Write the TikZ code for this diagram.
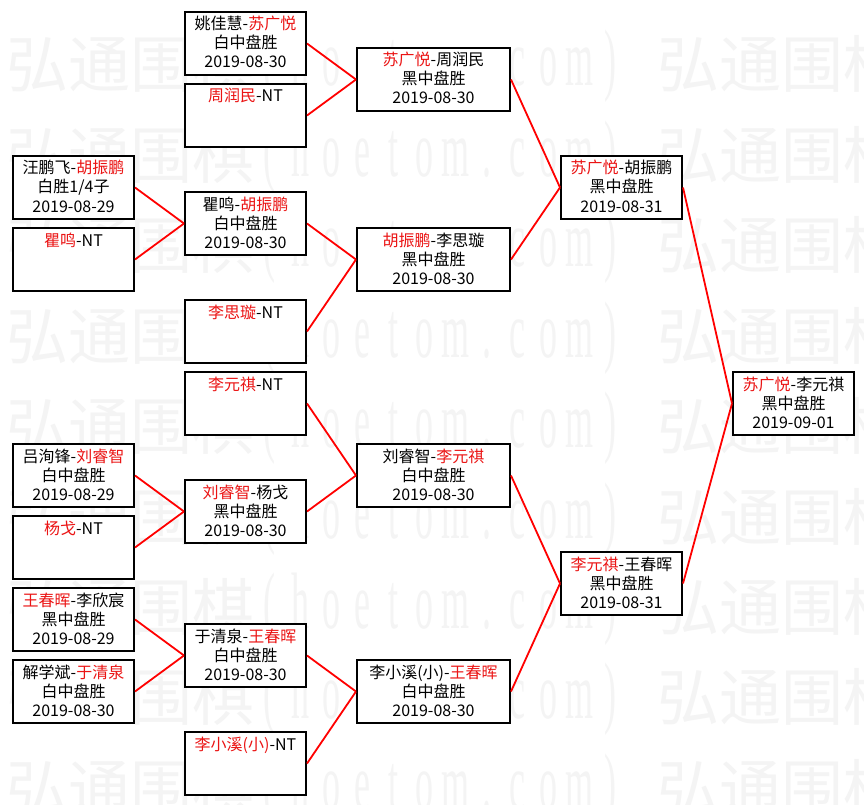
\documentclass[tikz,border=0pt]{standalone}
\usepackage{fontspec}
\usepackage{graphicx}
\setmainfont{Noto Sans CJK SC}
\newfontfamily\wmlat{Liberation Serif}
\usetikzlibrary{calc}
\definecolor{wm}{gray}{0.955}
\definecolor{win}{RGB}{235,20,20}
\newcommand{\rd}[1]{\textcolor{win}{#1}}
\tikzset{
  gbox/.style={draw=black, line width=2pt, fill=white, rectangle, inner sep=0pt, minimum height=63pt, anchor=north west},
  gtxt/.style={anchor=base, inner sep=0pt, font=\fontsize{16pt}{19pt}\selectfont},
  link/.style={draw=red, line width=1.8pt},
  wmc/.style={anchor=base, inner sep=0pt, text=wm, font=\fontsize{62pt}{62pt}\selectfont},
  wml/.style={anchor=base, inner sep=0pt, text=wm, font=\wmlat\fontsize{80pt}{80pt}\selectfont},
}
\newcommand{\gamebox}[7]{%
  \node[gbox, minimum width=#4pt] (#1) at (#2,#3) {};
  \node[gtxt] (#1a) at ($(#1.north)+(0,19)$) {#5};
  \node[gtxt] (#1b) at ($(#1.north)+(0,38)$) {#6};
  \node[gtxt] (#1c) at ($(#1.north)+(0,57)$) {#7};
}
\newcommand{\byebox}[5]{%
  \node[gbox, minimum width=#4pt] (#1) at (#2,#3) {};
  \node[gtxt] (#1a) at ($(#1.north)+(0,19)$) {#5};
}
\begin{document}
\begin{tikzpicture}[x=1pt,y=-1pt]
\useasboundingbox (0,0) rectangle (864,805);
\fill[white] (0,0) rectangle (864,805);
% watermark
\begin{scope}
\clip (0,0) rectangle (864,805);
\foreach \r in {0,...,8} {
  \pgfmathsetmacro\yb{88+90.4*\r}
  \foreach \rep in {0,1} {
    \pgfmathsetmacro\xo{651*\rep}
    \foreach \c [count=\i from 0] in {弘,通,围,棋} {
      \node[wmc] (wmc-\r-\rep-\i) at (\xo+37+62*\i,\yb) {\c};
    }
    \foreach \c [count=\i from 0] in {{(},h,o,e,t,o,m,.,c,o,m,{)}} {
      \node[wml] (wml-\r-\rep-\i) at (\xo+269.5+31*\i,\yb-2) {\scalebox{0.45}[1]{\c}};
    }
  }
}
\end{scope}
% boxes: column 1
\gamebox{A1}{12}{155}{121}{汪鹏飞-\rd{胡振鹏}}{白胜1/4子}{2019-08-29}
\byebox{A2}{12}{227}{121}{\rd{瞿鸣}-NT}
\gamebox{A3}{12}{443}{121}{吕洵锋-\rd{刘睿智}}{白中盘胜}{2019-08-29}
\byebox{A4}{12}{515}{121}{\rd{杨戈}-NT}
\gamebox{A5}{12}{587}{121}{\rd{王春晖}-李欣宸}{黑中盘胜}{2019-08-29}
\gamebox{A6}{12}{659}{121}{解学斌-\rd{于清泉}}{白中盘胜}{2019-08-30}
% column 2
\gamebox{B1}{184}{11}{121}{姚佳慧-\rd{苏广悦}}{白中盘胜}{2019-08-30}
\byebox{B2}{184}{83}{121}{\rd{周润民}-NT}
\gamebox{B3}{184}{191}{121}{瞿鸣-\rd{胡振鹏}}{白中盘胜}{2019-08-30}
\byebox{B4}{184}{299}{121}{\rd{李思璇}-NT}
\byebox{B5}{184}{371}{121}{\rd{李元祺}-NT}
\gamebox{B6}{184}{479}{121}{\rd{刘睿智}-杨戈}{黑中盘胜}{2019-08-30}
\gamebox{B7}{184}{623}{121}{于清泉-\rd{王春晖}}{白中盘胜}{2019-08-30}
\byebox{B8}{184}{731}{121}{\rd{李小溪(小)}-NT}
% column 3
\gamebox{C1}{356}{47}{153}{\rd{苏广悦}-周润民}{黑中盘胜}{2019-08-30}
\gamebox{C2}{356}{227}{153}{\rd{胡振鹏}-李思璇}{黑中盘胜}{2019-08-30}
\gamebox{C3}{356}{443}{153}{刘睿智-\rd{李元祺}}{白中盘胜}{2019-08-30}
\gamebox{C4}{356}{659}{153}{李小溪(小)-\rd{王春晖}}{白中盘胜}{2019-08-30}
% column 4
\gamebox{D1}{560}{155}{121}{\rd{苏广悦}-胡振鹏}{黑中盘胜}{2019-08-31}
\gamebox{D2}{560}{551}{121}{\rd{李元祺}-王春晖}{黑中盘胜}{2019-08-31}
% column 5
\gamebox{E1}{732}{371}{121}{\rd{苏广悦}-李元祺}{黑中盘胜}{2019-09-01}
% connectors
\draw[link] (B1.east) -- (C1.west);
\draw[link] (B2.east) -- (C1.west);
\draw[link] (A1.east) -- (B3.west);
\draw[link] (A2.east) -- (B3.west);
\draw[link] (B3.east) -- (C2.west);
\draw[link] (B4.east) -- (C2.west);
\draw[link] (C1.east) -- (D1.west);
\draw[link] (C2.east) -- (D1.west);
\draw[link] (A3.east) -- (B6.west);
\draw[link] (A4.east) -- (B6.west);
\draw[link] (B5.east) -- (C3.west);
\draw[link] (B6.east) -- (C3.west);
\draw[link] (A5.east) -- (B7.west);
\draw[link] (A6.east) -- (B7.west);
\draw[link] (B7.east) -- (C4.west);
\draw[link] (B8.east) -- (C4.west);
\draw[link] (C3.east) -- (D2.west);
\draw[link] (C4.east) -- (D2.west);
\draw[link] (D1.east) -- (E1.west);
\draw[link] (D2.east) -- (E1.west);
\end{tikzpicture}
\end{document}
